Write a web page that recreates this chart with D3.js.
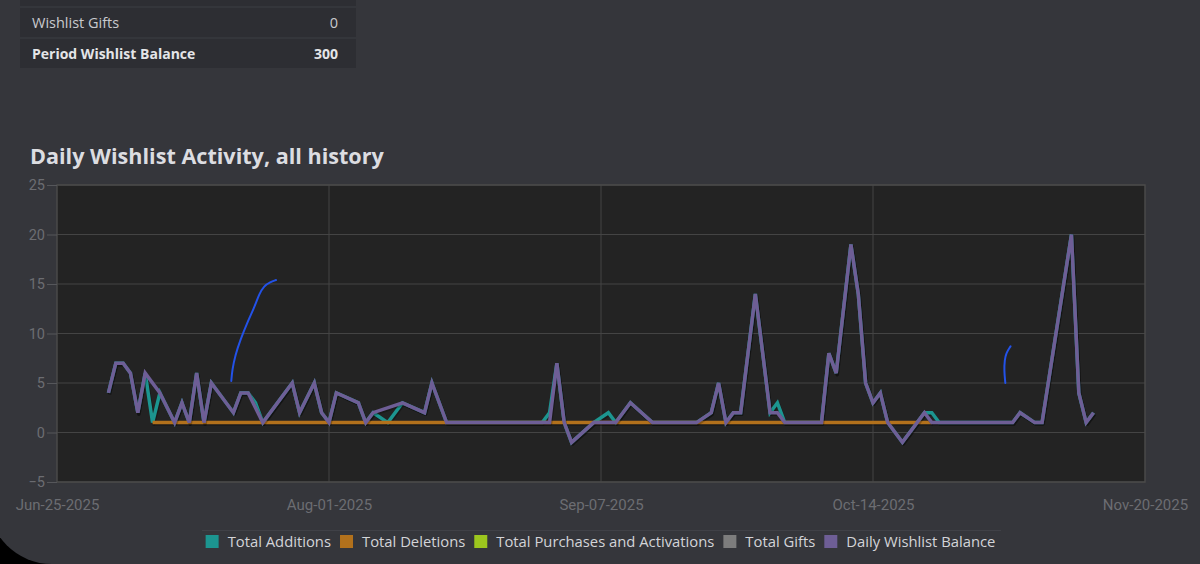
<!DOCTYPE html>
<html>
<head>
<meta charset="utf-8">
<script src="https://cdn.jsdelivr.net/npm/d3@7"></script>
<style>
  html, body { margin: 0; padding: 0; background: #000; }
  svg { display: block; }
</style>
</head>
<body>
<div id="chart"></div>
<script>
// Summary table rows (top part, cut off in the screenshot)
const tableRows = [
    { label: "Wishlist Gifts", value: "0", bold: false },
    { label: "Period Wishlist Balance", value: "300", bold: true }
];

const seriesNames = ["Total Additions", "Total Deletions", "Total Purchases and Activations", "Total Gifts", "Daily Wishlist Balance"];
const seriesColors = ["#1c9590", "#b2711c", "#9cc61e", "#7d7d7d", "#6e5e96"];

const yTicks = [-5, 0, 5, 10, 15, 20, 25];
const xTicks = ["2025-06-25", "2025-08-01", "2025-09-07", "2025-10-14", "2025-11-20"];

// Daily Wishlist Balance
const balanceDates = [
    "2025-07-02","2025-07-03","2025-07-04","2025-07-05","2025-07-06","2025-07-07","2025-07-09","2025-07-11",
    "2025-07-12","2025-07-13","2025-07-14","2025-07-15","2025-07-16","2025-07-19","2025-07-20","2025-07-21",
    "2025-07-23","2025-07-27","2025-07-28","2025-07-30","2025-07-31","2025-08-01","2025-08-02","2025-08-05",
    "2025-08-06","2025-08-07","2025-08-11","2025-08-14","2025-08-15","2025-08-17","2025-08-31","2025-09-01",
    "2025-09-02","2025-09-03","2025-09-06","2025-09-09","2025-09-11","2025-09-14","2025-09-20","2025-09-22",
    "2025-09-23","2025-09-24","2025-09-25","2025-09-26","2025-09-28","2025-09-30","2025-10-01","2025-10-02",
    "2025-10-07","2025-10-08","2025-10-09","2025-10-11","2025-10-12","2025-10-13","2025-10-14","2025-10-15",
    "2025-10-16","2025-10-18","2025-10-21","2025-10-22","2025-11-02","2025-11-03","2025-11-05","2025-11-06",
    "2025-11-10","2025-11-11","2025-11-12","2025-11-13"
];
const balanceValues = [
    4, 7, 7, 6, 2, 6, 4, 1,
    3, 1, 6, 1, 5, 2, 4, 4,
    1, 5, 2, 5, 2, 1, 4, 3,
    1, 2, 3, 2, 5, 1, 1, 7,
    1, -1, 1, 1, 3, 1, 1, 2,
    5, 1, 2, 2, 14, 2, 2, 1,
    1, 8, 6, 19, 14, 5, 3, 4,
    1, -1, 2, 1, 1, 2, 1, 1,
    20, 4, 1, 2
];

// Total Additions
const additionDates = [
    "2025-07-02","2025-07-03","2025-07-04","2025-07-05","2025-07-06","2025-07-07","2025-07-08","2025-07-09",
    "2025-07-11","2025-07-12","2025-07-13","2025-07-14","2025-07-15","2025-07-16","2025-07-19","2025-07-20",
    "2025-07-21","2025-07-22","2025-07-23","2025-07-27","2025-07-28","2025-07-30","2025-07-31","2025-08-01",
    "2025-08-02","2025-08-05","2025-08-06","2025-08-07","2025-08-09","2025-08-11","2025-08-14","2025-08-15",
    "2025-08-17","2025-08-30","2025-08-31","2025-09-01","2025-09-02","2025-09-03","2025-09-06","2025-09-08",
    "2025-09-09","2025-09-11","2025-09-14","2025-09-20","2025-09-22","2025-09-23","2025-09-24","2025-09-25",
    "2025-09-26","2025-09-28","2025-09-30","2025-10-01","2025-10-02","2025-10-07","2025-10-08","2025-10-09",
    "2025-10-11","2025-10-12","2025-10-13","2025-10-14","2025-10-15","2025-10-16","2025-10-18","2025-10-21",
    "2025-10-22","2025-10-23","2025-11-02","2025-11-03","2025-11-05","2025-11-06","2025-11-10","2025-11-11",
    "2025-11-12","2025-11-13"
];
const additionValues = [
    4, 7, 7, 6, 2, 6, 1, 4,
    1, 3, 1, 6, 1, 5, 2, 4,
    4, 3, 1, 5, 2, 5, 2, 1,
    4, 3, 1, 2, 1, 3, 2, 5,
    1, 1, 2, 7, 1, -1, 1, 2,
    1, 3, 1, 1, 2, 5, 1, 2,
    2, 14, 2, 3, 1, 1, 8, 6,
    19, 14, 5, 3, 4, 1, -1, 2,
    2, 1, 1, 2, 1, 1, 20, 4,
    1, 2
];

// Total Deletions
const deletionDates = ["2025-07-08", "2025-10-22"];
const deletionValues = [1, 1];

// Purchases and gifts: nothing drawn in the period
const purchaseDates = [];
const purchaseValues = [];
const giftDates = [];
const giftValues = [];

// hand-drawn pen strokes on the screenshot, [days after Jun-25, value]
const penStroke1 = [[23.69, 5.2], [23.83, 6.3], [24.24, 7.8], [24.92, 9.3], [25.87, 11.1], [26.82, 12.6], [27.5, 14.0], [28.17, 14.8], [28.99, 15.2], [29.8, 15.4]];
const penStroke2 = [[129.0, 5.0], [128.85, 6.3], [128.9, 7.3], [129.1, 8.0], [129.7, 8.7]];

function drawPage() {
    const width = 1200, height = 564;
    const parse = d3.utcParse("%Y-%m-%d");
    const fmt = d3.utcFormat("%b-%d-%Y");

    const svg = d3.select("#chart").append("svg")
        .attr("width", width)
        .attr("height", height);

    // panel with rounded lower-left corner
    svg.append("rect")
        .attr("x", -12).attr("y", -100)
        .attr("width", 1300).attr("height", 664)
        .attr("rx", 64)
        .attr("fill", "#35363b");

    // summary table
    const table = svg.append("g");
    table.append("rect")
        .attr("x", 20).attr("y", -10).attr("width", 336).attr("height", 78)
        .attr("fill", "#2d2e33");
    tableRows.forEach((r, i) => {
        const top = 7 + i * 31;
        table.append("line")
            .attr("x1", 20).attr("x2", 356)
            .attr("y1", top).attr("y2", top)
            .attr("stroke", "#3d3e44");
        table.append("text")
            .attr("x", 32).attr("y", top + 21)
            .style("font-family", "'Open Sans', sans-serif")
            .style("font-size", r.bold ? "14px" : "14.5px")
            .style("font-weight", r.bold ? 700 : 400)
            .attr("fill", r.bold ? "#e4e5e8" : "#c9cace")
            .text(r.label);
        table.append("text")
            .attr("x", 338).attr("y", top + 21)
            .attr("text-anchor", "end")
            .style("font-family", "'Open Sans', sans-serif")
            .style("font-size", r.bold ? "14px" : "14.5px")
            .style("font-weight", r.bold ? 700 : 400)
            .attr("fill", r.bold ? "#e4e5e8" : "#c9cace")
            .text(r.value);
    });

    // title
    svg.append("text")
        .attr("x", 30).attr("y", 164)
        .style("font-family", "'Open Sans', sans-serif")
        .style("font-size", "21.6px")
        .style("font-weight", 700)
        .attr("fill", "#dcdde1")
        .text("Daily Wishlist Activity, all history");

    // chart area
    const margin = { top: 185, right: 55, bottom: 82, left: 57 };
    const chartWidth = width - margin.left - margin.right;
    const chartHeight = height - margin.top - margin.bottom;

    const start = parse(xTicks[0]);
    const x = d3.scaleUtc()
        .domain([start, parse(xTicks[xTicks.length - 1])])
        .range([0, chartWidth]);
    const y = d3.scaleLinear()
        .domain([-5, 25])
        .range([chartHeight, 0]);

    const g = svg.append("g")
        .attr("transform", `translate(${margin.left},${margin.top})`);

    g.append("rect")
        .attr("width", chartWidth).attr("height", chartHeight)
        .attr("fill", "#232323");

    // grid
    g.append("g")
        .selectAll("line")
        .data(yTicks)
        .join("line")
        .attr("x1", 0).attr("x2", chartWidth)
        .attr("y1", d => y(d)).attr("y2", d => y(d))
        .attr("stroke", "#444444");
    g.append("g")
        .selectAll("line")
        .data(xTicks.slice(1, -1))
        .join("line")
        .attr("x1", d => x(parse(d))).attr("x2", d => x(parse(d)))
        .attr("y1", 0).attr("y2", chartHeight)
        .attr("stroke", "#444444");

    // border
    g.append("rect")
        .attr("width", chartWidth).attr("height", chartHeight)
        .attr("fill", "none")
        .attr("stroke", "#4a4a4a")
        .attr("stroke-width", 1.5);

    // Y axis
    const yAxis = g.append("g")
        .call(d3.axisLeft(y).tickValues(yTicks).tickSize(10).tickPadding(2));
    yAxis.select(".domain").remove();
    yAxis.selectAll(".tick line").attr("stroke", "#56575b");
    yAxis.selectAll("text")
        .attr("fill", "#6c6d72")
        .style("font-family", "Roboto, sans-serif")
        .style("font-size", "14.5px");

    // X axis labels
    const xAxis = g.append("g")
        .attr("transform", `translate(0,${chartHeight})`)
        .call(d3.axisBottom(x)
            .tickValues(xTicks.map(parse))
            .tickFormat(fmt)
            .tickSize(0)
            .tickPadding(17));
    xAxis.select(".domain").remove();
    xAxis.selectAll("text")
        .attr("fill", "#6c6d72")
        .style("font-family", "Roboto, sans-serif")
        .style("font-size", "15px");

    // lines
    const series = [
        { dates: additionDates, values: additionValues },
        { dates: deletionDates, values: deletionValues },
        { dates: purchaseDates, values: purchaseValues },
        { dates: giftDates, values: giftValues },
        { dates: balanceDates, values: balanceValues }
    ];
    const line = d3.line()
        .x(d => x(d.date))
        .y(d => y(d.value));

    series.forEach((s, i) => {
        const pts = s.dates.map((d, j) => ({ date: parse(d), value: s.values[j] }));
        if (!pts.length) return;
        // jqplot style shadow
        g.append("path")
            .datum(pts)
            .attr("d", line)
            .attr("fill", "none")
            .attr("stroke", "rgba(0,0,0,0.25)")
            .attr("stroke-width", 3.5)
            .attr("stroke-linejoin", "round")
            .attr("transform", "translate(1,1.5)");
        g.append("path")
            .datum(pts)
            .attr("d", line)
            .attr("fill", "none")
            .attr("stroke", seriesColors[i])
            .attr("stroke-width", 3.5)
            .attr("stroke-linejoin", "miter");
    });

    // pen scribbles
    const pen = d3.line()
        .x(d => x(d3.utcHour.offset(start, Math.round(d[0] * 24))))
        .y(d => y(d[1]))
        .curve(d3.curveBasis);
    [penStroke1, penStroke2].forEach(p => {
        g.append("path")
            .datum(p)
            .attr("d", pen)
            .attr("fill", "none")
            .attr("stroke", "#2352e8")
            .attr("stroke-width", 2)
            .attr("stroke-linecap", "round");
    });

    // legend
    const legend = svg.append("g");
    legend.append("line")
        .attr("x1", 202).attr("x2", 1001)
        .attr("y1", 530.5).attr("y2", 530.5)
        .attr("stroke", "#404147");
    let cx = 0;
    const items = legend.append("g");
    seriesNames.forEach((name, i) => {
        const row = items.append("g").attr("transform", `translate(${cx},0)`);
        row.append("rect")
            .attr("x", 0).attr("y", 535)
            .attr("width", 13).attr("height", 13)
            .attr("fill", seriesColors[i]);
        const t = row.append("text")
            .attr("x", 22).attr("y", 547)
            .style("font-family", "'Open Sans', sans-serif")
            .style("font-size", "14.8px")
            .attr("fill", "#d3d4d8")
            .text(name);
        cx += 22 + t.node().getComputedTextLength() + 9;
    });
    const totalW = cx - 9;
    items.attr("transform", `translate(${600.5 - totalW / 2},0)`);
}

drawPage();
</script>
</body>
</html>
